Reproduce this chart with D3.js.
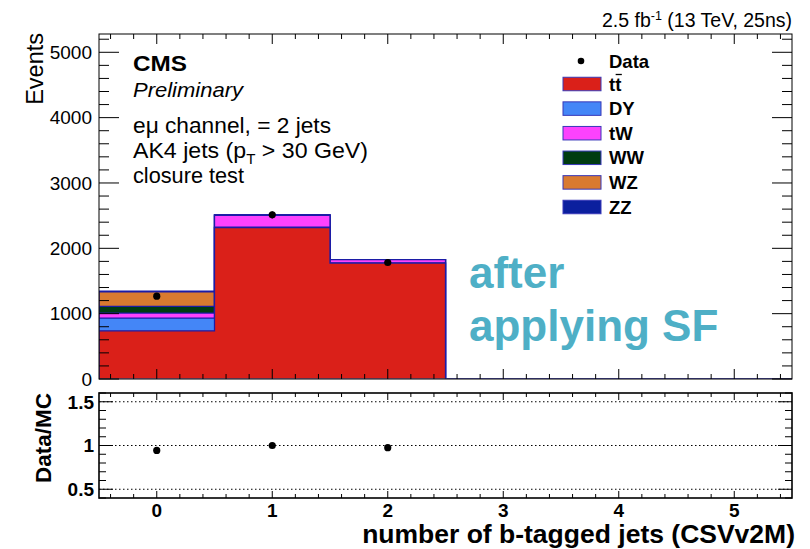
<!DOCTYPE html>
<html>
<head>
<meta charset="utf-8">
<script src="https://cdn.jsdelivr.net/npm/d3@7"></script>
<style>
  body { margin: 0; background: #fff; }
  svg { display: block; font-family: "Liberation Sans", Arial, Helvetica, sans-serif; }
</style>
</head>
<body>
<svg id="chart" width="810" height="549"></svg>
<script>
// ---- data: b-tag multiplicity, e-mu channel, exactly 2 jets ----
const bins = [0, 1, 2, 3, 4, 5];
const ttbar = [738, 2318, 1774, 0, 0, 0];
const dy    = [194,    6,    2, 0, 0, 0];
const tw    = [ 77,  182,   50, 0, 0, 0];
const ww    = [101,    3,    1, 0, 0, 0];
const wz    = [225,    2,    1, 0, 0, 0];
const zz    = [  8,    1,    0, 0, 0, 0];
const dataCounts = [1268, 2512, 1783, 0, 0, 0];

const processKeys   = ["ttbar", "dy", "tw", "ww", "wz", "zz"];
const processLabels = ["tt", "DY", "tW", "WW", "WZ", "ZZ"];
const processColors = ["#da2019", "#4486f7", "#fd42fd", "#003c10", "#d97a30", "#0b1f9e"];
const yTicksMain   = [0, 1000, 2000, 3000, 4000, 5000];
const yTicksRatio  = [0.5, 1, 1.5];
const xTickLabels  = ["0", "1", "2", "3", "4", "5"];

const outlineColor = "#1c1ca6";

// ---- layout ----
const svg = d3.select("#chart");
const left = 99, right = 792;
const mainTop = 34, mainBottom = 379;
const ratioTop = 393, ratioBottom = 498;

const x = d3.scaleLinear().domain([-0.5, 5.5]).range([left, right]);
const y = d3.scaleLinear().domain([0, 5280]).range([mainBottom, mainTop]);
const yr = d3.scaleLinear().domain([0.4, 1.6]).range([ratioBottom, ratioTop]);

// table for the stack layout
const table = bins.map((b, i) => ({
  bin: b, ttbar: ttbar[i], dy: dy[i], tw: tw[i], ww: ww[i], wz: wz[i], zz: zz[i]
}));
const stacked = d3.stack().keys(processKeys)(table);
const mcTotal = bins.map((b, i) => d3.sum(processKeys, k => table[i][k]));

// keep the outlines off the frame
svg.append("defs").append("clipPath").attr("id", "mainClip")
  .append("rect").attr("x", left).attr("y", mainTop)
  .attr("width", right - left).attr("height", mainBottom - mainTop - 0.8);

// step points for a cumulative histogram
function stepPoints(layer) {
  const pts = [[-0.5, 0]];
  layer.forEach((d, i) => {
    pts.push([bins[i] - 0.5, d[1]]);
    pts.push([bins[i] + 0.5, d[1]]);
  });
  pts.push([5.5, 0]);
  return pts;
}
const area = d3.area().x(p => x(p[0])).y0(y(0)).y1(p => y(p[1]));
const line = d3.line().x(p => x(p[0])).y(p => y(p[1]));

// ROOT-style stack: draw cumulative histograms from the largest down
const histG = svg.append("g").attr("clip-path", "url(#mainClip)");
for (let li = stacked.length - 1; li >= 0; li--) {
  const pts = stepPoints(stacked[li]);
  histG.append("path").attr("d", area(pts)).attr("fill", processColors[li]);
  histG.append("path").attr("d", line(pts)).attr("fill", "none")
    .attr("stroke", outlineColor).attr("stroke-width", 1.3);
}

// data points with Poisson errors
const dataG = svg.append("g");
bins.forEach((b, i) => {
  const n = dataCounts[i];
  if (n <= 0) return;
  const e = Math.sqrt(n);
  dataG.append("line").attr("x1", x(b)).attr("x2", x(b))
    .attr("y1", y(n - e)).attr("y2", y(n + e))
    .attr("stroke", "#000").attr("stroke-width", 1.5);
  dataG.append("circle").attr("cx", x(b)).attr("cy", y(n)).attr("r", 3.6).attr("fill", "#000");
});

// ---- axes & frame, main pad ----
const axG = svg.append("g").attr("stroke", "#000").attr("stroke-width", 1);
function yTicksOn(g, scale, domainLo, domainHi, step, majorEvery, majorLen, minorLen) {
  const n = Math.round((domainHi - domainLo) / step);
  for (let k = 0; k <= n; k++) {
    const v = domainLo + k * step;
    const sy = scale(v);
    const isMajor = Math.abs(v / majorEvery - Math.round(v / majorEvery)) < 1e-6;
    const len = isMajor ? majorLen : minorLen;
    g.append("line").attr("x1", left).attr("x2", left + len).attr("y1", sy).attr("y2", sy);
    g.append("line").attr("x1", right).attr("x2", right - len).attr("y1", sy).attr("y2", sy);
  }
}
function xTicksOn(g, top, bottom, majorLen, minorLen) {
  for (let k = 0; k <= 30; k++) {
    const v = -0.4 + k * 0.2;
    if (v > 5.45) break;
    const sx = x(v);
    const isMajor = Math.abs(v - Math.round(v)) < 1e-6;
    const len = isMajor ? majorLen : minorLen;
    g.append("line").attr("x1", sx).attr("x2", sx).attr("y1", bottom).attr("y2", bottom - len);
    g.append("line").attr("x1", sx).attr("x2", sx).attr("y1", top).attr("y2", top + len);
  }
}
yTicksOn(axG, y, 0, 5200, 200, 1000, 20, 10);
xTicksOn(axG, mainTop, mainBottom, 10, 5);
axG.append("rect").attr("x", left).attr("y", mainTop).attr("width", right - left)
  .attr("height", mainBottom - mainTop).attr("fill", "none");

svg.append("g").selectAll("text").data(yTicksMain).join("text")
  .attr("x", 92).attr("y", d => y(d)).attr("dy", "0.36em")
  .attr("text-anchor", "end").attr("font-size", 19).attr("fill", "#000")
  .text(d => d);

svg.append("text").attr("transform", "translate(42.5,33) rotate(-90)")
  .attr("text-anchor", "end").attr("font-size", 23.5).text("Events");

// ---- ratio pad ----
const rG = svg.append("g");
yTicksRatio.forEach(v => {
  rG.append("line").attr("x1", left).attr("x2", right).attr("y1", yr(v)).attr("y2", yr(v))
    .attr("stroke", "#000").attr("stroke-width", 1).attr("stroke-dasharray", "1.5,2.5");
});
const rAx = svg.append("g").attr("stroke", "#000").attr("stroke-width", 1);
yTicksOn(rAx, yr, 0.4, 1.6, 0.1, 0.5, 14, 7);
xTicksOn(rAx, ratioTop, ratioBottom, 7, 4);
rAx.append("rect").attr("x", left).attr("y", ratioTop).attr("width", right - left)
  .attr("height", ratioBottom - ratioTop).attr("fill", "none").attr("stroke-width", 1.6);

bins.forEach((b, i) => {
  const n = dataCounts[i];
  if (n <= 0 || mcTotal[i] <= 0) return;
  const r = n / mcTotal[i];
  const e = Math.sqrt(n) / mcTotal[i];
  rG.append("line").attr("x1", x(b)).attr("x2", x(b)).attr("y1", yr(r - e)).attr("y2", yr(r + e))
    .attr("stroke", "#000").attr("stroke-width", 1.5);
  rG.append("circle").attr("cx", x(b)).attr("cy", yr(r)).attr("r", 3.6).attr("fill", "#000");
});

svg.append("g").selectAll("text").data(yTicksRatio).join("text")
  .attr("x", 94).attr("y", d => yr(d)).attr("dy", "0.36em")
  .attr("text-anchor", "end").attr("font-size", 19).attr("font-weight", "bold")
  .text(d => d);

svg.append("g").selectAll("text").data(bins).join("text")
  .attr("x", d => x(d)).attr("y", 517).attr("text-anchor", "middle")
  .attr("font-size", 19).attr("font-weight", "bold")
  .text((d, i) => xTickLabels[i]);

svg.append("text").attr("transform", "translate(51,393) rotate(-90)")
  .attr("text-anchor", "end").attr("font-size", 22.5).attr("font-weight", "bold")
  .text("Data/MC");

svg.append("text").attr("x", 795).attr("y", 543).attr("text-anchor", "end")
  .attr("font-size", 26.5).attr("font-weight", "bold")
  .text("number of b-tagged jets (CSVv2M)");

// ---- header & annotations ----
const lumi = svg.append("text").attr("x", 792).attr("y", 27).attr("text-anchor", "end")
  .attr("font-size", 19.5);
lumi.append("tspan").text("2.5 fb");
lumi.append("tspan").attr("font-size", 12.5).attr("dy", -7.5).text("-1");
lumi.append("tspan").attr("dy", 7.5).text(" (13 TeV, 25ns)");

svg.append("text").attr("x", 133).attr("y", 71).attr("font-size", 21.5)
  .attr("font-weight", "bold").attr("textLength", 54).attr("lengthAdjust", "spacingAndGlyphs")
  .text("CMS");
svg.append("text").attr("x", 133).attr("y", 97).attr("font-size", 21)
  .attr("font-style", "italic").attr("textLength", 110).attr("lengthAdjust", "spacingAndGlyphs")
  .text("Preliminary");
svg.append("text").attr("x", 133).attr("y", 133).attr("font-size", 21.5)
  .attr("textLength", 198).attr("lengthAdjust", "spacingAndGlyphs")
  .text("eμ channel, = 2 jets");
const ak4 = svg.append("text").attr("x", 133).attr("y", 158).attr("font-size", 21.5)
  .attr("textLength", 235).attr("lengthAdjust", "spacingAndGlyphs");
ak4.append("tspan").text("AK4 jets (p");
ak4.append("tspan").attr("font-size", 14).attr("dy", 6).text("T");
ak4.append("tspan").attr("dy", -6).text(" > 30 GeV)");
svg.append("text").attr("x", 133).attr("y", 183).attr("font-size", 21.5)
  .attr("textLength", 111).attr("lengthAdjust", "spacingAndGlyphs")
  .text("closure test");

svg.append("text").attr("x", 469).attr("y", 288).attr("font-size", 44)
  .attr("font-weight", "bold").attr("fill", "#4eafc6").text("after");
svg.append("text").attr("x", 469).attr("y", 341).attr("font-size", 44)
  .attr("font-weight", "bold").attr("fill", "#4eafc6").text("applying SF");

// ---- legend ----
const leg = svg.append("g");
const legX = 563, legY0 = 84, legStep = 24.6, boxW = 38, boxH = 13.5, textX = 609;
leg.append("circle").attr("cx", 581).attr("cy", 61).attr("r", 3.3).attr("fill", "#000");
leg.append("text").attr("x", textX).attr("y", 61).attr("dy", "0.36em")
  .attr("font-size", 18.5).attr("font-weight", "bold").text("Data");
processLabels.forEach((lab, i) => {
  const cy = legY0 + i * legStep;
  leg.append("rect").attr("x", legX).attr("y", cy - boxH / 2).attr("width", boxW).attr("height", boxH)
    .attr("fill", processColors[i]).attr("stroke", "#3838b8").attr("stroke-width", 1);
  const t = leg.append("text").attr("x", textX).attr("y", cy).attr("dy", "0.36em")
    .attr("font-size", 18.5).attr("font-weight", "bold").text(lab);
  if (i === 0) {
    // bar over the second t (anti-top)
    const node = t.node();
    const p = node.getStartPositionOfChar(1);
    const w = node.getSubStringLength(1, 1);
    leg.append("line").attr("x1", p.x + 0.5).attr("x2", p.x + w + 0.5)
      .attr("y1", cy - 9.5).attr("y2", cy - 9.5).attr("stroke", "#000").attr("stroke-width", 1.3);
  }
});
</script>
</body>
</html>
